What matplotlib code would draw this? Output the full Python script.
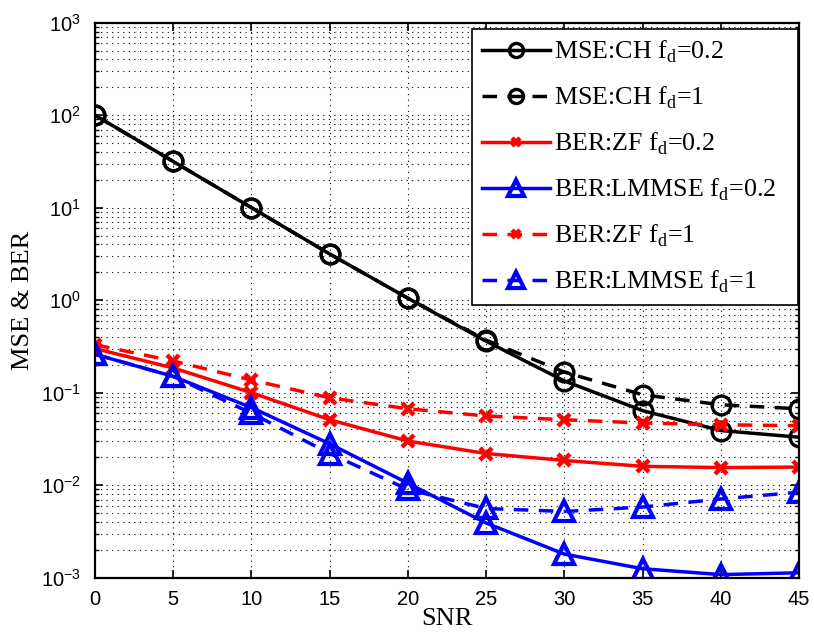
import numpy as np
import matplotlib
matplotlib.use("Agg")
import matplotlib.pyplot as plt
from matplotlib.ticker import LogLocator, FixedLocator, NullFormatter

plt.rcParams['font.family'] = ['Liberation Sans', 'DejaVu Sans']
plt.rcParams['mathtext.fontset'] = 'custom'
plt.rcParams['mathtext.rm'] = 'Liberation Sans'
plt.rcParams['mathtext.it'] = 'Liberation Sans:italic'

snr = [0, 5, 10, 15, 20, 25, 30, 35, 40, 45]

mse_ch_02 = [100, 31.6, 10.0, 3.16, 1.05, 0.36, 0.134, 0.064, 0.039, 0.033]
mse_ch_1 = [100, 31.6, 10.0, 3.16, 1.05, 0.37, 0.167, 0.095, 0.074, 0.067]
ber_zf_02 = [0.30, 0.185, 0.10, 0.051, 0.030, 0.022, 0.0185, 0.016, 0.0155, 0.0157]
ber_lmmse_02 = [0.26, 0.15, 0.069, 0.028, 0.0105, 0.0039, 0.0018, 0.00125, 0.00108, 0.00113]
ber_zf_1 = [0.33, 0.22, 0.137, 0.088, 0.067, 0.056, 0.051, 0.047, 0.045, 0.044]
ber_lmmse_1 = [0.26, 0.15, 0.06, 0.022, 0.009, 0.0056, 0.0052, 0.0058, 0.0071, 0.0084]

labels = [r"MSE:CH f$_\mathregular{d}$=0.2", r"MSE:CH f$_\mathregular{d}$=1",
          r"BER:ZF f$_\mathregular{d}$=0.2", r"BER:LMMSE f$_\mathregular{d}$=0.2",
          r"BER:ZF f$_\mathregular{d}$=1", r"BER:LMMSE f$_\mathregular{d}$=1"]

fig = plt.figure(figsize=(8.14, 6.37), dpi=100)
ax = fig.add_axes([0.1167, 0.0931, 0.8649, 0.8713])

lw = 2.5
dash = (4.2, 3)
ax.plot(snr, mse_ch_02, '-', color='black', lw=lw, marker='o', ms=13.5, mfc='none', mew=2.4, label=labels[0])
ax.plot(snr, mse_ch_1, '--', color='black', lw=lw, marker='o', ms=13.5, mfc='none', mew=2.4, label=labels[1], dashes=dash)
ax.plot(snr, ber_zf_02, '-', color='red', lw=lw, marker='x', ms=8, mew=3.2, label=labels[2])
ax.plot(snr, ber_lmmse_02, '-', color='blue', lw=lw, marker='^', ms=15, mfc='none', mew=3, label=labels[3])
ax.plot(snr, ber_zf_1, '--', color='red', lw=lw, marker='x', ms=8, mew=3.2, label=labels[4], dashes=dash)
ax.plot(snr, ber_lmmse_1, '--', color='blue', lw=lw, marker='^', ms=15, mfc='none', mew=3, label=labels[5], dashes=dash)

ax.set_yscale('log')
ax.set_xlim(0, 45)
ax.set_ylim(1e-3, 1e3)
ax.xaxis.set_major_locator(FixedLocator(snr))
ax.yaxis.set_major_locator(LogLocator(base=10, numticks=10))
ax.yaxis.set_minor_locator(LogLocator(base=10, subs=np.arange(2, 10), numticks=20))
ax.yaxis.set_minor_formatter(NullFormatter())

ax.grid(True, which='major', linestyle=(0, (1, 4)), color='black', lw=0.8)
ax.grid(True, which='minor', axis='y', linestyle=(0, (1, 4)), color='black', lw=0.8)
ax.tick_params(which='both', direction='in', top=True, right=True, labelsize=14.5)
ax.tick_params(axis='x', which='major', pad=9)
ax.tick_params(axis='y', which='major', pad=10)
ax.tick_params(which='major', length=6, width=1.2)
ax.tick_params(which='minor', length=3, width=1)
for s in ax.spines.values():
    s.set_linewidth(1.6)

ax.set_xlabel('SNR', fontsize=19, family='Liberation Serif', labelpad=-1)
ax.set_ylabel('MSE & BER', fontsize=19, family='Liberation Serif', labelpad=5)

leg = ax.legend(loc='upper left', mode='expand', frameon=True, fancybox=False,
                edgecolor='black', framealpha=1, handlelength=2.6,
                handletextpad=0.15, borderpad=0.4,
                borderaxespad=0.0, labelspacing=0.76, markerscale=0.75,
                bbox_to_anchor=(0.5355, 0.0, 0.463, 0.989),
                prop={'family': 'Liberation Serif', 'size': 18.7})
leg.get_frame().set_linewidth(1.2)

fig.savefig('out.png', dpi=100)
